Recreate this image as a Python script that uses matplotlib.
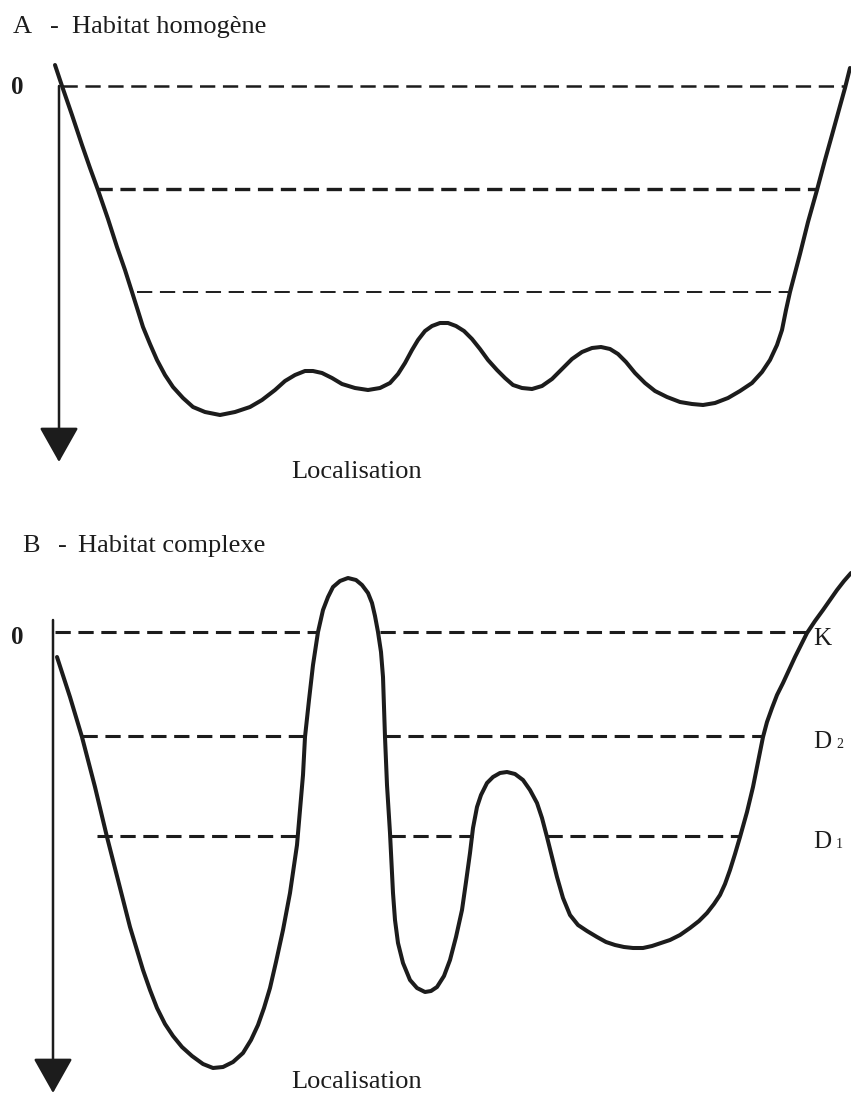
"""Habitat profiles: homogeneous vs complex habitat (schematic)."""

import matplotlib
matplotlib.use('Agg')
import matplotlib.pyplot as plt

plt.rcParams['font.family'] = ['Liberation Serif', 'DejaVu Serif']
plt.rcParams['lines.scale_dashes'] = False

INK = '#1c1c1c'

# Panel A curve (figure pixel space, y downwards)
curve_a_x = [55, 62, 72, 82, 90, 98, 108, 117, 125, 132, 138, 143, 150, 157, 165, 173,
             183, 193, 205, 220, 235, 250, 262, 275, 285, 295, 305, 313, 322, 332,
             342, 355, 368, 380, 390, 398, 405, 412, 418, 425, 432, 440, 448, 456,
             464, 472, 480, 488, 497, 505, 513, 522, 532, 542, 552, 562, 572, 582,
             592, 601, 610, 618, 626, 635, 645, 655, 667, 680, 692, 703, 715, 728,
             740, 752, 762, 770, 777, 782, 786, 790, 800, 808, 817, 825, 832, 840,
             845, 850]
curve_a_y = [65, 86, 115, 145, 168, 190, 219, 247, 270, 292, 311, 327, 344, 360, 375, 387,
             398, 407, 412, 415, 412, 407, 400, 390, 381, 375, 371, 371, 373, 378,
             384, 388, 390, 388, 383, 374, 363, 350, 340, 331, 326, 323, 323, 326,
             331, 339, 349, 360, 370, 378, 385, 388, 389, 386, 379, 369, 359, 352,
             348, 347, 349, 354, 362, 373, 383, 391, 397, 402, 404, 405, 403, 398,
             391, 383, 372, 360, 345, 330, 310, 292, 254, 222, 190, 160, 135, 106,
             88, 68]

# Panel A dashed levels
levels_a_y = [86, 189, 292]
levels_a_x0 = [62, 97, 137]
levels_a_x1 = [845, 817, 788]
levels_a_lw = [1.8, 2.4, 1.4]

# Panel B curve
curve_b_x = [57, 70, 82, 95, 107, 118, 130, 143, 150, 157, 165, 173, 182, 192, 203,
             213, 223, 233, 243, 251, 258, 264, 270, 276, 283, 290, 297, 300, 303,
             305, 309, 313, 318, 323, 328, 333, 340, 348, 356, 362, 368, 372, 375,
             378, 381, 383, 384, 385, 387, 390, 393, 395, 398, 403, 410, 417, 425,
             431, 437, 444, 450, 456, 462, 466, 470, 473, 477, 481, 487, 493, 500,
             507, 515, 523, 530, 537, 542, 547, 552, 557, 563, 570, 578, 587, 597,
             606, 615, 624, 633, 643, 652, 661, 670, 680, 690, 699, 707, 714, 720,
             725, 730, 735, 740, 747, 753, 758, 763, 767, 772, 777, 783, 789, 795,
             801, 807, 815, 823, 830, 837, 844, 851]
curve_b_y = [657, 697, 737, 787, 837, 880, 927, 970, 990, 1008, 1024, 1036, 1047, 1056, 1064,
             1068, 1067, 1062, 1053, 1040, 1025, 1008, 988, 962, 930, 893, 845, 810, 775,
             737, 700, 665, 632, 610, 597, 587, 581, 578, 580, 585, 593, 603, 616,
             632, 652, 677, 707, 737, 785, 833, 893, 920, 943, 963, 980, 988, 992,
             991, 987, 976, 960, 937, 910, 882, 853, 828, 807, 795, 783, 777, 773,
             772, 774, 780, 790, 803, 818, 837, 857, 877, 898, 915, 925, 931, 937,
             942, 945, 947, 948, 948, 946, 943, 940, 935, 928, 921, 913, 904, 895,
             884, 870, 854, 837, 812, 787, 762, 737, 722, 708, 695, 683, 670, 657,
             645, 633, 621, 610, 600, 590, 581, 573]

# Panel B dashed levels, broken where the profile rises above them
levels_b_y = [632, 632, 736, 736, 836, 836, 836]
levels_b_x0 = [55, 380, 82, 385, 97, 390, 547]
levels_b_x1 = [318, 807, 305, 763, 297, 473, 740]
levels_b_name = ['K', 'D', 'D']
levels_b_sub = ['', '2', '1']
levels_b_label_y = [645, 748, 848]


def draw_axis(ax, x, y_top, y_tip):
    ax.annotate('', xy=(x, y_tip), xytext=(x, y_top),
                arrowprops=dict(arrowstyle='-|>,head_length=1.1,head_width=0.62',
                                mutation_scale=20, lw=1.8, color=INK,
                                shrinkA=0, shrinkB=0))


def main():
    fig = plt.figure(figsize=(8.51, 10.94), dpi=100)
    ax = fig.add_axes([0, 0, 1, 1])
    ax.set_xlim(0, 851)
    ax.set_ylim(1094, 0)
    ax.axis('off')

    # --- Panel A
    for y, x0, x1, lw in zip(levels_a_y, levels_a_x0, levels_a_x1, levels_a_lw):
        ax.plot([x0, x1], [y, y], color=INK, lw=lw, linestyle=(0, (11, 5.5)))
    ax.plot(curve_a_x, curve_a_y, color=INK, lw=2.9, solid_joinstyle='round',
            solid_capstyle='round')
    draw_axis(ax, 59, 86, 462)

    ax.text(13, 33, 'A', fontsize=19, va='baseline', color=INK)
    ax.text(50, 33, '-', fontsize=19, va='baseline', color=INK)
    ax.text(72, 33, 'Habitat homogène', fontsize=19, va='baseline', color=INK)
    ax.text(17, 88, '0', fontsize=18, ha='center', va='center', color=INK,
            fontweight='bold')
    ax.text(357, 478, 'Localisation', fontsize=19, ha='center', va='baseline', color=INK)

    # --- Panel B
    for y, x0, x1 in zip(levels_b_y, levels_b_x0, levels_b_x1):
        ax.plot([x0, x1], [y, y], color=INK, lw=2.2, linestyle=(0, (11, 5.5)))
    ax.plot(curve_b_x, curve_b_y, color=INK, lw=2.9, solid_joinstyle='round',
            solid_capstyle='round')
    draw_axis(ax, 53, 620, 1093)

    ax.text(22, 552, 'B', fontsize=19, va='baseline', color=INK)
    ax.text(58, 552, '-', fontsize=19, va='baseline', color=INK)
    ax.text(78, 552, 'Habitat complexe', fontsize=19, va='baseline', color=INK)
    ax.text(17, 638, '0', fontsize=18, ha='center', va='center', color=INK,
            fontweight='bold')
    ax.text(357, 1088, 'Localisation', fontsize=19, ha='center', va='baseline', color=INK)

    for name, sub, y in zip(levels_b_name, levels_b_sub, levels_b_label_y):
        ax.text(813, y, name, fontsize=18, va='baseline', color=INK)
        if sub:
            ax.text(836, y, sub, fontsize=10, va='baseline', color=INK)

    fig.savefig('out.png', dpi=100)
    plt.close(fig)


if __name__ == '__main__':
    main()
